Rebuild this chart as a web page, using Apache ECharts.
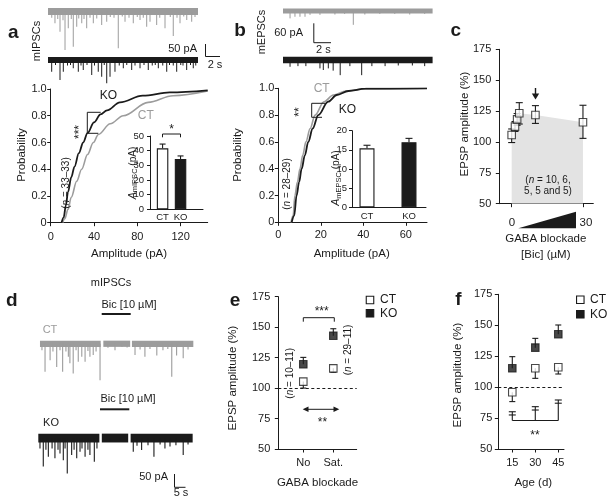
<!DOCTYPE html>
<html><head><meta charset="utf-8">
<script src="https://cdn.jsdelivr.net/npm/echarts@6/dist/echarts.min.js"></script>
<style>html,body{margin:0;padding:0;background:#fff}#c{width:612px;height:499px}</style>
</head><body><div id="c"></div>
<script>
// ================= DATA =================
// a: cumulative probability of mIPSC amplitudes
const cdfA_CT = [[11,0],[13,0.03],[16,0.1],[19,0.19],[24,0.31],[28.6,0.4],[34,0.51],[39.4,0.6],[44,0.66],[55,0.74],[67,0.8],[90,0.9],[113,0.95],[145,0.985]];
const cdfA_KO = [[10,0],[12,0.04],[14,0.13],[16,0.23],[19,0.34],[22,0.42],[26,0.52],[30,0.6],[34,0.67],[40,0.75],[46,0.81],[52,0.84],[64,0.9],[85,0.95],[110,0.975],[145,0.99]];
const aTicks = [0, 40, 80, 120];
const insetCats = ['CT', 'KO'];
const insetA_mean = [41.6, 34.3];
const insetA_err = [2.9, 2.1];
// b: mEPSC amplitudes
const cdfB_CT = [[6,0],[7,0.05],[7.8,0.2],[9,0.3],[10.2,0.4],[11.5,0.5],[13,0.6],[15,0.7],[17.3,0.8],[21.5,0.9],[25.9,0.95],[32,0.98],[40,0.995],[70,1]];
const cdfB_KO = [[6.3,0],[7.5,0.05],[8.6,0.2],[9.8,0.3],[11,0.4],[12.5,0.5],[14.1,0.6],[16.2,0.7],[18.8,0.8],[23.5,0.9],[27.5,0.95],[33,0.98],[41,0.997],[70,1]];
const bTicks = [0, 20, 40, 60];
const insetB_mean = [15.4, 17.0];
const insetB_err = [0.8, 1.0];
// c: EPSP amplitude vs [Bic]
const cBic  = [0, 1.4, 2.3, 3.2, 10, 30];
const cMean = [105.6, 112.4, 118.3, 123.2, 121.8, 115.9];
const cLow  = [99.5, 108.5, 113.5, 114.5, 115.0, 102.9];
const cHigh = [110.5, 116.5, 123.0, 131.8, 129.4, 129.7];
// e: EPSP amplitude, no vs saturating GABA blockade
const eCats = ['No', 'Sat.'];
const eCT = [105.3, 116.2], eCTlow = [100.0, 113.0];
const eKO = [119.5, 143.0], eKOhigh = [125.2, 148.7];
// f: EPSP amplitude vs age
const fAge = [15, 30, 45];
const fCT = [95.8, 115.2, 116.0], fCTlow = [88.3, 107.1, 110.6];
const fKO = [115.2, 131.9, 142.7], fKOhigh = [124.6, 139.4, 150.2];
const fDiff = [77.5, 81.5, 87.0], fDiffHigh = [80.1, 84.2, 89.6];
const fDiffBase = 73;
// Traces: events [time (s), amplitude (pA)] and recording spans [t0, t1]
const aSpan = [[0, 20]];
const aCTev = [[0.5,-25],[0.93,-47],[1.3,-30],[1.6,-81],[2.0,-35],[2.27,-154],[2.7,-67],[3.1,-30],[3.37,-141],[3.83,-61],[4.1,-28],[4.5,-47],[4.8,-30],[5.16,-67],[5.6,-25],[6.04,-47],[6.5,-28],[7.16,-54],[7.83,-41],[8.3,-22],[8.8,-25],[9.37,-147],[9.9,-20],[10.27,-41],[10.8,-25],[11.37,-47],[11.9,-22],[12.27,-34],[12.7,-25],[13.16,-61],[13.6,-41],[14.49,-54],[14.9,-25],[15.6,-67],[16.3,-22],[16.7,-98],[17.2,-25],[17.6,-47],[18.1,-20],[18.5,-34],[19.16,-41],[19.6,-22]];
const aKOev = [[0.49,-47],[1.0,-20],[1.6,-80],[2.04,-47],[2.6,-22],[3.0,-20],[3.37,-33],[4.04,-47],[4.4,-22],[4.7,-40],[5.2,-20],[5.83,-60],[6.2,-22],[6.7,-47],[7.16,-67],[7.5,-20],[7.83,-93],[8.27,-67],[8.93,-47],[9.5,-22],[10.04,-33],[10.5,-20],[11.16,-40],[11.6,-22],[12.27,-33],[12.8,-20],[13.37,-40],[13.9,-22],[14.3,-20],[14.71,-33],[15.3,-22],[15.83,-47],[16.2,-20],[16.7,-22],[17.16,-47],[17.7,-20],[18.0,-22],[18.49,-40],[19.0,-20],[19.37,-33],[19.7,-22]];
const bSpan = [[0, 17]];
const bCTev = [[0.8,-23],[1.36,-18],[1.93,-18],[2.5,-18],[3.07,-12],[4.2,-12],[5.9,-11],[7.0,-9],[7.99,-43],[9.3,-11],[11.0,-9],[12.7,-9],[14.4,-11],[16.1,-9]];
const bKOev = [[0.8,-21],[1.7,-19],[2.6,-19],[4.2,-26],[4.58,-31],[5.15,-26],[5.7,-33],[6.5,-47],[7.6,-19],[8.94,-47],[10.1,-19],[11.6,-19],[13.1,-17],[14.7,-17],[16.1,-19]];
const dCTspan = [[0.9,28.5],[29.7,41.9],[42.7,70.6]];
const dKOspan = [[0.14,27.9],[29.0,41.0],[42.1,70.3]];
const dCTev = [[1.8,-25],[3.2,-108],[5.5,-63],[6.8,-30],[8.5,-89],[10,-25],[11.2,-108],[12.7,-30],[13.8,-50],[14.5,-75],[16.0,-114],[17.3,-25],[18.3,-69],[19.9,-50],[21.4,-69],[22.7,-28],[23.6,-50],[25.1,-43],[26.4,-30],[28.2,-140],
  [31.8,-15],[35,-25],[38.2,-12],[40.5,-14],
  [44.1,-43],[46.4,-22],[48.6,-50],[50.9,-20],[54,-45],[56.8,-25],[59,-20],[60.8,-127],[63,-45],[66,-56],[68.2,-22]];
const dKOev = [[0.9,-40],[2.4,-110],[3.6,-45],[4.7,-72],[6.4,-40],[7.7,-78],[9.1,-45],[10,-59],[11.5,-85],[12.3,-40],[13.3,-136],[15.3,-65],[16.4,-45],[17.6,-78],[19.1,-53],[20,-40],[21.4,-72],[22.7,-45],[23.6,-65],[25.6,-91],[26.8,-40],
  [32.7,-12],[37.3,-10],
  [43.3,-53],[45,-30],[47.1,-46],[50,-28],[52.7,-72],[55.5,-25],[57.7,-40],[60,-33],[62.7,-28],[66,-65],[68.2,-25]];

// ================= LAYOUT / STYLE =================
const F = '"Liberation Sans", Arial, Helvetica, sans-serif';
const INK = '#1b1b1b';
const GRAY = '#9c9c9c';
const SHADE = '#e3e3e3';
const grids = [], xAxes = [], yAxes = [], series = [], gfx = [];

function ax(min, max, interval, o) {
  o = o || {};
  return {
    type: 'value', min, max, interval,
    axisLine: {show: true, onZero: false, lineStyle: {color: INK, width: 1}},
    axisTick: Object.assign({show: o.tick !== false, length: o.tickLen || 3.5, lineStyle: {color: INK, width: 1}}, o.tickCustom ? {customValues: o.tickCustom} : {}),
    axisLabel: Object.assign({show: o.label !== false, color: INK, fontSize: o.fs || 11, fontFamily: F, margin: o.margin || 5, formatter: o.fmt}, o.labelCustom ? {customValues: o.labelCustom} : {}),
    splitLine: {show: false}
  };
}
function hidden(min, max) { return {type: 'value', min, max, show: false}; }
function addGrid(rect, xa, ya) {
  const i = grids.length;
  grids.push(Object.assign({containLabel: false}, rect));
  xAxes.push(Object.assign({gridIndex: i}, xa));
  yAxes.push(Object.assign({gridIndex: i}, ya));
  return i;
}
function errSeries(gi, data, capW, mode, z) {
  return {type: 'custom', xAxisIndex: gi, yAxisIndex: gi, data, silent: true, z: z || 3,
    renderItem: (p, api) => {
      const x = api.value(0);
      const A = api.coord([x, api.value(1)]), B = api.coord([x, api.value(2)]);
      const st = {stroke: INK, lineWidth: 1.1};
      const h = capW / 2;
      const ch = [{type: 'line', shape: {x1: A[0], y1: A[1], x2: B[0], y2: B[1]}, style: st},
                  {type: 'line', shape: {x1: B[0] - h, y1: B[1], x2: B[0] + h, y2: B[1]}, style: st}];
      if (mode === 'two') ch.push({type: 'line', shape: {x1: A[0] - h, y1: A[1], x2: A[0] + h, y2: A[1]}, style: st});
      return {type: 'group', children: ch};
    }};
}
function traceSeries(gi, spans, events, base, half, color, lw) {
  series.push({type: 'custom', xAxisIndex: gi, yAxisIndex: gi, data: spans, silent: true, z: 2,
    renderItem: (p, api) => {
      const a = api.coord([api.value(0), base + half]), b = api.coord([api.value(1), base - half]);
      return {type: 'rect', shape: {x: a[0], y: a[1], width: b[0] - a[0], height: b[1] - a[1]}, style: {fill: color}};
    }});
  series.push({type: 'custom', xAxisIndex: gi, yAxisIndex: gi, data: events, silent: true, z: 2,
    renderItem: (p, api) => {
      const a = api.coord([api.value(0), base]), b = api.coord([api.value(0), base + api.value(1)]);
      return {type: 'line', shape: {x1: a[0], y1: a[1], x2: b[0], y2: b[1]}, style: {stroke: color, lineWidth: lw}};
    }});
}
function txt(x, y, text, o) {
  o = o || {};
  const size = o.size || 11;
  const font = (o.italic ? 'italic ' : '') + (o.bold ? 'bold ' : '') + size + 'px ' + F;
  const al = o.align || 'center', va = o.va || 'middle';
  gfx.push({type: 'text', x, y, rotation: o.rot || 0, silent: true, z: 100,
    style: {text, font, fill: o.color || INK, textAlign: al, align: al, textVerticalAlign: va, verticalAlign: va, rich: o.rich}});
}
function pl(points, o) {
  o = o || {};
  gfx.push({type: 'polyline', silent: true, z: 100, shape: {points}, style: {stroke: o.color || INK, lineWidth: o.lw || 1, fill: null}});
}
function poly(points, color) {
  gfx.push({type: 'polygon', silent: true, z: 100, shape: {points}, style: {fill: color || INK}});
}
function sq(cx, cy, s, filled) {
  gfx.push({type: 'rect', silent: true, z: 100, shape: {x: cx - s / 2, y: cy - s / 2, width: s, height: s},
    style: {fill: filled ? INK : '#fff', stroke: INK, lineWidth: 1.1}});
}
const italicN = (size) => ({i: {fontStyle: 'italic', fontSize: size, fontFamily: F, fill: INK}});
const subRich = {a: {fontStyle: 'italic', fontSize: 10.5, fontFamily: F, fill: INK, lineHeight: 12}, s: {fontSize: 7.5, fontFamily: F, fill: INK, verticalAlign: 'bottom', lineHeight: 6}};
const R90 = Math.PI / 2;

// ---------- panel a ----------
const gA = addGrid({left: 50.7, top: 89, width: 157, height: 133.7},
  ax(0, 145, null, {margin: 9, tickCustom: aTicks, labelCustom: aTicks, fmt: v => String(Math.round(v))}),
  ax(0, 1, 0.2, {margin: 4, fmt: v => v === 0 ? '0' : v.toFixed(1)}));
series.push({type: 'line', xAxisIndex: gA, yAxisIndex: gA, data: cdfA_CT, showSymbol: false, smooth: 0.35, smoothMonotone: 'x', lineStyle: {color: GRAY, width: 1.6}, z: 3});
series.push({type: 'line', xAxisIndex: gA, yAxisIndex: gA, data: cdfA_KO, showSymbol: false, smooth: 0.35, smoothMonotone: 'x', lineStyle: {color: INK, width: 1.8}, z: 4});
const gAi = addGrid({left: 150, top: 136, width: 53, height: 73.3},
  ax(-0.7, 2.25, null, {tick: false, fs: 9.5, margin: 3, labelCustom: [0, 1], fmt: v => insetCats[Math.round(v)]}),
  ax(0, 50, 10, {fs: 9.5, margin: 6, tickLen: 3}));
series.push({type: 'bar', xAxisIndex: gAi, yAxisIndex: gAi, barWidth: 11.5, z: 5,
  data: insetA_mean.map((v, i) => ({value: [i, v], itemStyle: {color: i ? INK : '#fff', borderColor: INK, borderWidth: 1.1}}))});
series.push(errSeries(gAi, insetA_mean.map((v, i) => [i, v, v + insetA_err[i]]), 6, 'one', 6));

// ---------- panel b ----------
const gB = addGrid({left: 278.3, top: 88.3, width: 148.7, height: 134},
  ax(0, 70, null, {margin: 7, tickCustom: bTicks, labelCustom: bTicks, fmt: v => String(Math.round(v))}),
  ax(0, 1, 0.2, {margin: 4, fmt: v => v === 0 ? '0' : v.toFixed(1)}));
series.push({type: 'line', xAxisIndex: gB, yAxisIndex: gB, data: cdfB_CT, showSymbol: false, smooth: 0.35, smoothMonotone: 'x', lineStyle: {color: GRAY, width: 1.6}, z: 3});
series.push({type: 'line', xAxisIndex: gB, yAxisIndex: gB, data: cdfB_KO, showSymbol: false, smooth: 0.35, smoothMonotone: 'x', lineStyle: {color: INK, width: 1.8}, z: 4});
const gBi = addGrid({left: 352, top: 130.7, width: 74, height: 76.6},
  ax(-0.357, 1.405, null, {tick: false, fs: 9.5, margin: 4, labelCustom: [0, 1], fmt: v => insetCats[Math.round(v)]}),
  ax(0, 20, 5, {fs: 9.5, margin: 5, tickLen: 3}));
series.push({type: 'bar', xAxisIndex: gBi, yAxisIndex: gBi, barWidth: 15, z: 5,
  data: insetB_mean.map((v, i) => ({value: [i, v], itemStyle: {color: i ? INK : '#fff', borderColor: INK, borderWidth: 1.1}}))});
series.push(errSeries(gBi, insetB_mean.map((v, i) => [i, v, v + insetB_err[i]]), 7, 'one', 6));

// ---------- panel c ----------
const gC = addGrid({left: 499.3, top: 49.3, width: 94, height: 154.4},
  ax(-5.2, 34.35, null, {label: false, tickCustom: [0, 30]}),
  ax(50, 175, 25, {margin: 8}));
series.push({type: 'line', xAxisIndex: gC, yAxisIndex: gC, data: cBic.map((x, i) => [x, cMean[i]]), showSymbol: false,
  lineStyle: {width: 0, color: SHADE}, areaStyle: {color: SHADE, opacity: 1, origin: 'start'}, z: 1});
series.push(errSeries(gC, cBic.map((x, i) => [x, cLow[i], cHigh[i]]), 7, 'two', 3));
series.push({type: 'scatter', xAxisIndex: gC, yAxisIndex: gC, data: cBic.map((x, i) => [x, cMean[i]]), symbol: 'rect', symbolSize: 7.5,
  itemStyle: {color: '#fff', borderColor: INK, borderWidth: 1.1}, z: 5});

// ---------- panel e ----------
const gE = addGrid({left: 278.3, top: 296.7, width: 78.4, height: 152.3},
  ax(-0.833, 1.78, null, {margin: 8, tickCustom: [0, 1], labelCustom: [0, 1], fmt: v => eCats[Math.round(v)]}),
  ax(50, 175, 25, {margin: 8}));
series.push(errSeries(gE, eCT.map((v, i) => [i, v, eCTlow[i]]), 6, 'one', 3));
series.push(errSeries(gE, eKO.map((v, i) => [i, v, eKOhigh[i]]), 6, 'one', 3));
series.push({type: 'scatter', xAxisIndex: gE, yAxisIndex: gE, data: eCT.map((v, i) => [i, v]), symbol: 'rect', symbolSize: 7.5,
  itemStyle: {color: '#fff', borderColor: INK, borderWidth: 1.1}, z: 5,
  markLine: {silent: true, symbol: 'none', label: {show: false}, lineStyle: {color: INK, type: [3, 2.5], width: 1}, data: [{yAxis: 100}]}});
series.push({type: 'scatter', xAxisIndex: gE, yAxisIndex: gE, data: eKO.map((v, i) => [i, v]), symbol: 'rect', symbolSize: 7.5,
  itemStyle: {color: INK, borderColor: INK, borderWidth: 1.1}, z: 5});

// ---------- panel f ----------
const gF = addGrid({left: 498.3, top: 294.3, width: 65.7, height: 154.7},
  ax(5.87, 48.73, null, {margin: 8, tickCustom: fAge, labelCustom: fAge, fmt: v => String(Math.round(v))}),
  ax(50, 175, 25, {margin: 6}));
series.push(errSeries(gF, fCT.map((v, i) => [fAge[i], v, fCTlow[i]]), 6, 'one', 3));
series.push(errSeries(gF, fKO.map((v, i) => [fAge[i], v, fKOhigh[i]]), 6, 'one', 3));
series.push(errSeries(gF, fDiff.map((v, i) => [fAge[i], fDiffBase, fDiffHigh[i]]), 7, 'one', 3));
series.push(errSeries(gF, fDiff.map((v, i) => [fAge[i], v, v]), 7, 'one', 3));
series.push({type: 'line', xAxisIndex: gF, yAxisIndex: gF, data: fAge.map(a => [a, fDiffBase]), showSymbol: false, lineStyle: {color: INK, width: 1.1}, z: 3});
series.push({type: 'scatter', xAxisIndex: gF, yAxisIndex: gF, data: fCT.map((v, i) => [fAge[i], v]), symbol: 'rect', symbolSize: 7.5,
  itemStyle: {color: '#fff', borderColor: INK, borderWidth: 1.1}, z: 5,
  markLine: {silent: true, symbol: 'none', label: {show: false}, lineStyle: {color: INK, type: [3, 2.5], width: 1}, data: [{yAxis: 100}]}});
series.push({type: 'scatter', xAxisIndex: gF, yAxisIndex: gF, data: fKO.map((v, i) => [fAge[i], v]), symbol: 'rect', symbolSize: 7.5,
  itemStyle: {color: INK, borderColor: INK, borderWidth: 1.1}, z: 5});

// ---------- traces ----------
const gTA = addGrid({left: 48, top: 0, width: 180, height: 90}, hidden(0, 180 / 7.5), hidden(-90 * 4, 0));
traceSeries(gTA, aSpan, aCTev, -46, 14, GRAY, 1);
traceSeries(gTA, aSpan, aKOev, -240, 12, INK, 1);
const gTB = addGrid({left: 283, top: 0, width: 160, height: 90}, hidden(0, 160 / 8.8), hidden(-90 * 3.1, 0));
traceSeries(gTB, bSpan, bCTev, -34, 8, GRAY, 1);
traceSeries(gTB, bSpan, bKOev, -186, 10, INK, 1);
const gTD = addGrid({left: 38, top: 330, width: 160, height: 165}, hidden(0, 160 / 2.2), hidden(-165 * 3.85, 0));
traceSeries(gTD, dCTspan, dCTev, -53, 12, GRAY, 1.1);
traceSeries(gTD, dKOspan, dKOev, -416, 17, INK, 1.1);

// ---------- annotations ----------
txt(13.3, 23.3, 'a', {bold: true, size: 19, va: 'alphabetic'});
txt(240, 21.7, 'b', {bold: true, size: 19, va: 'alphabetic'});
txt(455.8, 21.7, 'c', {bold: true, size: 19, va: 'alphabetic'});
txt(11.7, 291.7, 'd', {bold: true, size: 19, va: 'alphabetic'});
txt(235, 291.7, 'e', {bold: true, size: 19, va: 'alphabetic'});
txt(458.3, 290.7, 'f', {bold: true, size: 19, va: 'alphabetic'});
// a
txt(36.7, 41, 'mIPSCs', {rot: R90});
txt(197, 48.5, '50 pA', {align: 'right'});
pl([[205.5, 44], [205.5, 56.5], [220, 56.5]]);
txt(215, 65, '2 s');
txt(21.7, 155, 'Probability', {rot: R90, size: 11.5});
txt(129, 254, 'Amplitude (pA)', {size: 11.5});
txt(108.3, 95.3, 'KO', {size: 12});
txt(145.8, 115.8, 'CT', {size: 12, color: GRAY});
txt(80, 132, '***', {rot: R90, size: 12});
pl([[100.7, 112.3], [87.3, 112.3], [87.3, 133.3], [98.3, 133.3]]);
txt(66.7, 183, '({i|n} = 33–33)', {rot: R90, size: 10, rich: italicN(10)});
txt(133.3, 173, '{a|A}{s|mIPSC} (pA)', {rot: R90, size: 10, rich: subRich});
pl([[162.5, 137.3], [162.5, 134], [180.5, 134], [180.5, 137.3]]);
txt(171.5, 129.5, '*', {size: 12});
// b
txt(261.7, 32, 'mEPSCs', {rot: R90});
txt(303, 33.3, '60 pA', {align: 'right'});
pl([[313.8, 23.3], [313.8, 42.7], [331, 42.7]]);
txt(323.3, 50, '2 s');
txt(238.3, 155, 'Probability', {rot: R90, size: 11.5});
txt(351.7, 254, 'Amplitude (pA)', {size: 11.5});
txt(321.7, 88.3, 'CT', {size: 12, color: GRAY});
txt(347.5, 110, 'KO', {size: 12});
txt(300, 112, '**', {rot: R90, size: 12});
pl([[325, 103.3], [311.7, 103.3], [311.7, 117.3], [322, 117.3]]);
txt(287.3, 184, '({i|n} = 28–29)', {rot: R90, size: 10, rich: italicN(10)});
txt(336.5, 178, '{a|A}{s|mEPSC} (pA)', {rot: R90, size: 10, rich: subRich});
// c
txt(465, 124, 'EPSP amplitude (%)', {rot: R90, size: 11.5});
txt(548, 180, '({i|n} = 10, 6,', {size: 10, rich: italicN(10)});
txt(548, 191.7, '5, 5 and 5)', {size: 10});
pl([[535.5, 88], [535.5, 95]], {lw: 1.4});
poly([[531.8, 93.5], [539.2, 93.5], [535.5, 99.5]]);
txt(512, 222.7, '0', {size: 11.5});
txt(586, 222.7, '30', {size: 11.5});
poly([[518.3, 228.3], [576, 211.7], [576, 228.3]]);
txt(545.8, 239, 'GABA blockade', {size: 11.5});
txt(545.8, 254.5, '[Bic] (µM)', {size: 11.5});
// d
txt(111, 283.3, 'mIPSCs');
txt(129, 305, 'Bic [10 µM]');
pl([[101.7, 314], [130.7, 314]], {lw: 2});
txt(50, 330, 'CT', {color: GRAY});
txt(128, 399.3, 'Bic [10 µM]');
pl([[100, 409.3], [129.3, 409.3]], {lw: 2});
txt(51, 423.3, 'KO');
txt(168, 477, '50 pA', {align: 'right'});
pl([[174.5, 474], [174.5, 487.3], [185.5, 487.3]]);
txt(181, 492.5, '5 s');
// e
txt(233.3, 378, 'EPSP amplitude (%)', {rot: R90, size: 11.5});
pl([[303.3, 321.7], [303.3, 317.7], [334.3, 317.7], [334.3, 321.7]]);
txt(321.7, 311.5, '***', {size: 12});
txt(290.7, 373.3, '({i|n} = 10–11)', {rot: R90, size: 10, rich: italicN(10)});
txt(348.3, 350, '({i|n} = 29–11)', {rot: R90, size: 10, rich: italicN(10)});
pl([[305, 409.3], [337, 409.3]]);
poly([[302.7, 409.3], [308.5, 406.6], [308.5, 412]]);
poly([[339.3, 409.3], [333.5, 406.6], [333.5, 412]]);
txt(322.5, 422.5, '**', {size: 12});
sq(370, 300, 7.5, false); txt(380, 300, 'CT', {align: 'left', size: 12});
sq(370, 313.3, 7.5, true); txt(380, 313.5, 'KO', {align: 'left', size: 12});
txt(317.5, 483.3, 'GABA blockade', {size: 11.5});
// f
txt(458.3, 375, 'EPSP amplitude (%)', {rot: R90, size: 11.5});
sq(580.3, 299.7, 7.5, false); txt(590, 300, 'CT', {align: 'left', size: 12});
sq(580.3, 314.3, 7.5, true); txt(590, 314.5, 'KO', {align: 'left', size: 12});
txt(535, 435.5, '**', {size: 12});
txt(533.3, 483.3, 'Age (d)', {size: 11.5});

const chart = echarts.init(document.getElementById('c'), null, {renderer: 'canvas', width: 612, height: 499});
chart.setOption({
  animation: false,
  backgroundColor: '#fff',
  grid: grids, xAxis: xAxes, yAxis: yAxes, series,
  graphic: {elements: gfx}
});
</script></body></html>
